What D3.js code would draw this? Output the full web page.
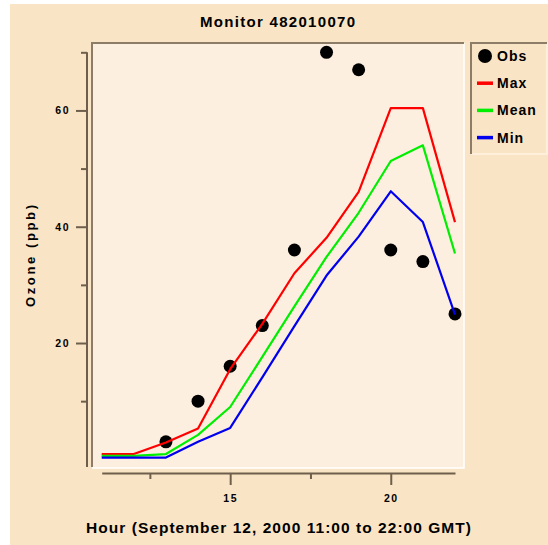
<!DOCTYPE html>
<html>
<head>
<meta charset="utf-8">
<script src="https://cdn.jsdelivr.net/npm/d3@7"></script>
<style>
  body { margin: 0; background: #ffffff; }
  text { font-family: "Liberation Sans", Arial, sans-serif; font-weight: bold; fill: #000; }
</style>
</head>
<body>
<div id="chart"></div>
<script>
// hourly values, ozone in ppb
var hours = [11, 12, 13, 14, 15, 16, 17, 18, 19, 20, 21, 22];
var obsHours = [13, 14, 15, 16, 17, 18, 19, 20, 21, 22];
var obsValues = [3, 10, 16, 23, 36, 70, 67, 36, 34, 25];
var maxValues = [0.9, 0.9, 2.9, 5.3, 15.5, 23.3, 32.0, 38.1, 46.0, 60.4, 60.4, 40.8];
var meanValues = [0.6, 0.6, 0.9, 4.2, 9.0, 17.6, 26.3, 34.8, 42.4, 51.3, 54.0, 35.4];
var minValues = [0.3, 0.3, 0.3, 3.0, 5.4, 14.1, 22.9, 31.6, 38.3, 46.1, 40.8, 24.9];

var xMajorTicks = [15, 20];
var xMinorTicks = [12.5, 17.5];
var yMajorTicks = [20, 40, 60];
var yMinorTicks = [10, 30, 50, 70];

var legendLabels = ["Obs", "Max", "Mean", "Min"];
var legendColors = ["#000000", "#ff0000", "#00ee00", "#0000ee"];

var width = 548;
var height = 545;

var svg = d3.select('#chart')
    .append('svg')
    .attr('width', width)
    .attr('height', height);

// beige page
svg.append('rect')
    .attr('x', 10)
    .attr('y', 4)
    .attr('width', width - 10)
    .attr('height', height - 4)
    .attr('fill', '#f9e4c5');

var x = d3.scaleLinear()
    .domain([11, 22])
    .range([101.7, 455]);

var y = d3.scaleLinear()
    .domain([0, 70])
    .range([459.3, 52.3]);

// plot panel
svg.append('rect')
    .attr('x', 92)
    .attr('y', 43)
    .attr('width', 372)
    .attr('height', 425)
    .attr('fill', '#fcefdf');
svg.append('path')
    .attr('d', 'M92,468 L464,468 L464,43')
    .attr('fill', 'none')
    .attr('stroke', '#ffffff')
    .attr('stroke-width', 1.5);
svg.append('path')
    .attr('d', 'M92,467 L92,43 L464,43')
    .attr('fill', 'none')
    .attr('stroke', '#8c7c68')
    .attr('stroke-width', 2);

// title
svg.append('text')
    .attr('x', 277.5)
    .attr('y', 27.3)
    .attr('text-anchor', 'middle')
    .attr('font-size', 15)
    .attr('textLength', 155)
    .attr('lengthAdjust', 'spacing')
    .text('Monitor 482010070');

// axes
var axisColor = '#6e5f4d';

var yAxisMajor = svg.append('g')
    .attr('transform', 'translate(87,0)')
    .call(d3.axisLeft(y).tickValues(yMajorTicks).tickSize(11).tickPadding(6).tickSizeOuter(0));
var yAxisMinor = svg.append('g')
    .attr('transform', 'translate(87,0)')
    .call(d3.axisLeft(y).tickValues(yMinorTicks).tickSize(6).tickFormat('').tickSizeOuter(0));
yAxisMinor.select('.domain').remove();
yAxisMajor.select('.domain').attr('d', 'M0,' + y(70) + 'V467');

var xAxisMajor = svg.append('g')
    .attr('transform', 'translate(0,473)')
    .call(d3.axisBottom(x).tickValues(xMajorTicks).tickSize(12).tickPadding(9.6).tickSizeOuter(0));
var xAxisMinor = svg.append('g')
    .attr('transform', 'translate(0,473)')
    .call(d3.axisBottom(x).tickValues(xMinorTicks).tickSize(6).tickFormat('').tickSizeOuter(0));
xAxisMinor.select('.domain').remove();

svg.selectAll('.domain, .tick line')
    .attr('stroke', axisColor)
    .attr('stroke-width', 2);
svg.selectAll('.tick text')
    .attr('font-size', 10.5)
    .attr('font-family', '"Liberation Sans", Arial, sans-serif')
    .attr('font-weight', 'bold')
    .attr('letter-spacing', 1.5)
    .attr('fill', '#000');

// axis titles
svg.append('text')
    .attr('x', 278.5)
    .attr('y', 532.7)
    .attr('text-anchor', 'middle')
    .attr('font-size', 15.5)
    .attr('textLength', 385)
    .attr('lengthAdjust', 'spacing')
    .text('Hour (September 12, 2000 11:00 to 22:00 GMT)');

svg.append('text')
    .attr('transform', 'translate(35,256) rotate(-90)')
    .attr('text-anchor', 'middle')
    .attr('font-size', 13)
    .attr('textLength', 102)
    .attr('lengthAdjust', 'spacing')
    .text('Ozone (ppb)');

// observations
svg.append('g')
    .selectAll('circle')
    .data(obsHours)
    .enter()
    .append('circle')
    .attr('cx', (d) => x(d))
    .attr('cy', (d, i) => y(obsValues[i]))
    .attr('r', 6.5)
    .attr('fill', '#000');

// model lines
var line = d3.line()
    .x((d, i) => x(hours[i]))
    .y((d) => y(d));

var series = [maxValues, meanValues, minValues];
svg.append('g')
    .selectAll('path')
    .data(series)
    .enter()
    .append('path')
    .attr('d', (d) => line(d))
    .attr('fill', 'none')
    .attr('stroke', (d, i) => legendColors[i + 1])
    .attr('stroke-width', 2.2)
    .attr('stroke-linejoin', 'round');

// legend
var legend = svg.append('g');
legend.append('path')
    .attr('d', 'M471,154 L547,154 L547,43')
    .attr('fill', 'none')
    .attr('stroke', '#fff3e2')
    .attr('stroke-width', 1.5);
legend.append('path')
    .attr('d', 'M471,154 L471,43 L547,43')
    .attr('fill', 'none')
    .attr('stroke', '#8c7c68')
    .attr('stroke-width', 2);

var rowY = (i) => 56 + i * 27.2;

var items = legend.selectAll('g.item')
    .data(legendLabels)
    .enter()
    .append('g')
    .attr('class', 'item');

items.filter((d, i) => i == 0)
    .append('circle')
    .attr('cx', 485)
    .attr('cy', rowY(0))
    .attr('r', 7)
    .attr('fill', legendColors[0]);

items.filter((d, i) => i > 0)
    .append('line')
    .attr('x1', 477)
    .attr('x2', 493)
    .attr('y1', (d) => rowY(legendLabels.indexOf(d)))
    .attr('y2', (d) => rowY(legendLabels.indexOf(d)))
    .attr('stroke', (d) => legendColors[legendLabels.indexOf(d)])
    .attr('stroke-width', 3.5);

items.append('text')
    .attr('x', 497)
    .attr('y', (d, i) => rowY(i) + 5)
    .attr('font-size', 14)
    .attr('letter-spacing', 1)
    .text((d) => d);
</script>
</body>
</html>
